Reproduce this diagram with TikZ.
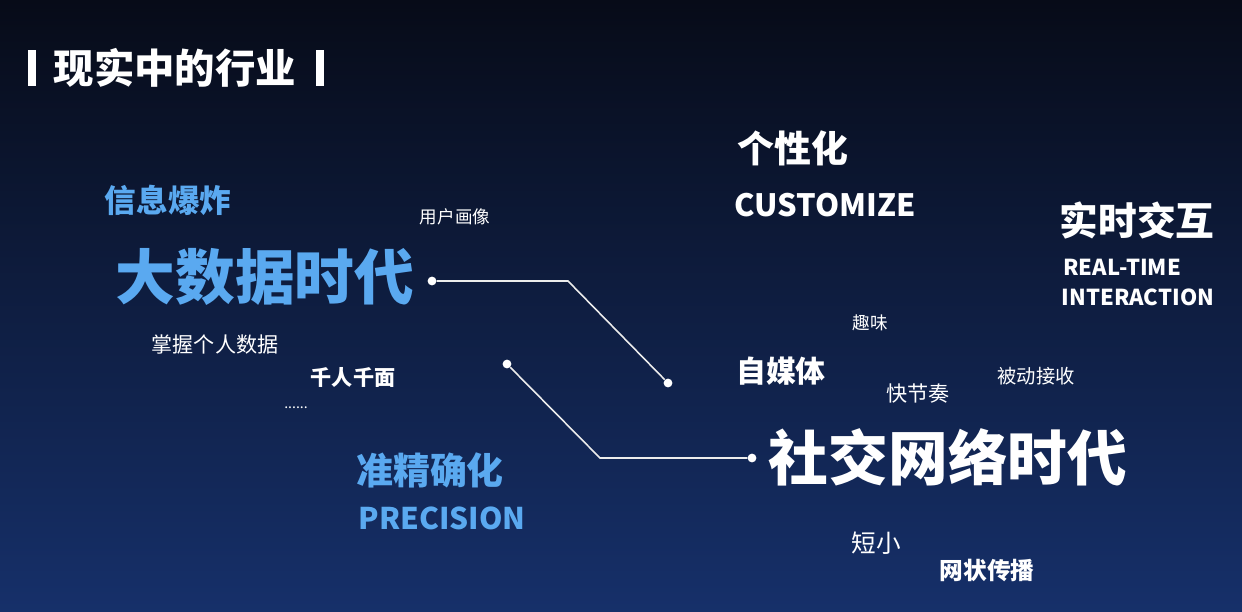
\documentclass[tikz,border=0pt]{standalone}
\usepackage{fontspec}
\setmainfont{Noto Sans CJK SC}
\usepackage{tikz}
\usetikzlibrary{positioning,calc}
\definecolor{bgtop}{HTML}{070B18}
\definecolor{bgbot}{HTML}{16306A}
\definecolor{skyblue}{HTML}{5AA9F0}
\newcommand{\fsz}[1]{\fontsize{#1}{#1}\selectfont}
\tikzset{
  word/.style={text=white, inner sep=0pt},
  bword/.style={word, font=\bfseries},
  blueword/.style={bword, text=skyblue},
  dot/.style={circle, fill=white, inner sep=0pt, minimum size=5pt},
  link/.style={white!85!gray, line width=0.9pt}
}
\begin{document}
\begin{tikzpicture}[x=0.02cm,y=-0.02cm]
        % background
        \shade[top color=bgtop, bottom color=bgbot] (0,0) rectangle (1242,612);
        \useasboundingbox (0,0) rectangle (1242,612);

        % title
        \fill[white] (28,50) rectangle (36,86);
        \fill[white] (316,50) rectangle (324,86);
        \node[bword, font=\bfseries\fsz{23}] (title) at (175,68) {现实中的行业};

        % big data side
        \node[blueword, font=\bfseries\fsz{18}] (info) at (168,200) {信息爆炸};
        \node[word, font=\fsz{10}] (portrait) at (455,217) {用户画像};
        \node[blueword, font=\bfseries\fsz{34}] (bigdata) at (265,277) {大数据时代};
        \node[word, font=\fsz{12}] (personal) at (215,345) {掌握个人数据};
        \node[bword, font=\bfseries\fsz{12}] (faces) at (353,377) {千人千面};
        \node[word, font=\fsz{8}] (etc) at (296,408) {......};
        \node[blueword, font=\bfseries\fsz{21}] (precise) at (430,470) {准精确化};
        \node[blueword, font=\bfseries\fsz{17}] (precision) at (442,518) {PRECISION};

        % social side
        \node[bword, font=\bfseries\fsz{21}] (custom) at (793,148) {个性化};
        \node[bword, font=\bfseries\fsz{17.5}] (customize) at (825,205) {CUSTOMIZE};
        \node[bword, font=\bfseries\fsz{22}] (realtime) at (1137,221) {实时交互};
        \node[bword, font=\bfseries\fsz{12.5}] (rt1) at (1122,267) {REAL-TIME};
        \node[bword, font=\bfseries\fsz{12.5}] (rt2) at (1138,297) {INTERACTION};
        \node[word, font=\fsz{10}] (fun) at (870,323) {趣味};
        \node[bword, font=\bfseries\fsz{17}] (media) at (781,371) {自媒体};
        \node[word, font=\fsz{12}] (fast) at (918,394) {快节奏};
        \node[word, font=\fsz{11}] (passive) at (1036,376) {被动接收};
        \node[bword, font=\bfseries\fsz{34}] (social) at (948,457) {社交网络时代};
        \node[word, font=\fsz{14}] (short) at (876,543) {短小};
        \node[bword, font=\bfseries\fsz{13.5}] (mesh) at (987,571) {网状传播};

        % connectors
        \node[dot] (d1) at (432,281) {};
        \node[dot] (d2) at (668,383) {};
        \node[dot] (d3) at (507,364) {};
        \node[dot] (d4) at (752,458) {};
        \coordinate (k1) at (568,281);
        \coordinate (k2) at (600,458);
        \draw[link] (d1) -- (k1) -- (d2);
        \draw[link] (d3) -- (k2) -- (d4);
\end{tikzpicture}
\end{document}
